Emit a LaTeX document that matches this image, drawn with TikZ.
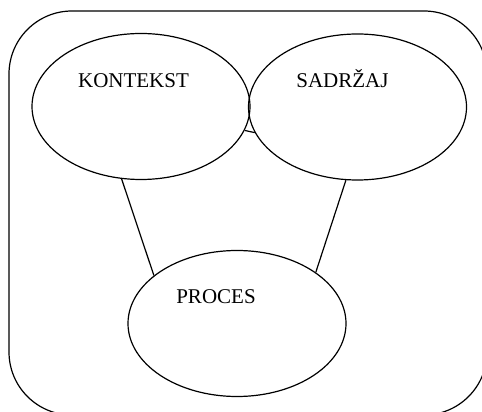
\documentclass[tikz,border=0pt]{standalone}
\usepackage{fontspec}
\setmainfont{Liberation Serif}
\usetikzlibrary{shapes.geometric}
\begin{document}
\begin{tikzpicture}[x=1pt,y=1pt,line width=1.2pt,
  oval/.style={draw,ellipse,inner sep=0pt,minimum width=218pt,minimum height=146pt},
  lbl/.style={anchor=base,inner sep=0pt,font=\fontsize{21}{21}\selectfont}]
\useasboundingbox (0,0) rectangle (482,412);
\begin{scope}
\clip (0,0) rectangle (482,412);
\draw[rounded corners=63pt] (9,-3) rectangle (487,401);
\end{scope}
\node[oval] (k) at (141,305.5) {};
\node[oval] (s) at (357.5,305) {};
\node[oval] (p) at (237,88.5) {};
\node[lbl] (kt) at (133.5,324) {KONTEKST};
\node[lbl] (st) at (342.5,324) {SADRŽAJ};
\node[lbl] (pt) at (216,108) {PROCES};
\draw (k.-105.4) -- (p.150.7);
\draw (s.-99.7) -- (p.33.8);
\draw (k.-13.5) -- (s.-166.8);
\end{tikzpicture}
\end{document}
